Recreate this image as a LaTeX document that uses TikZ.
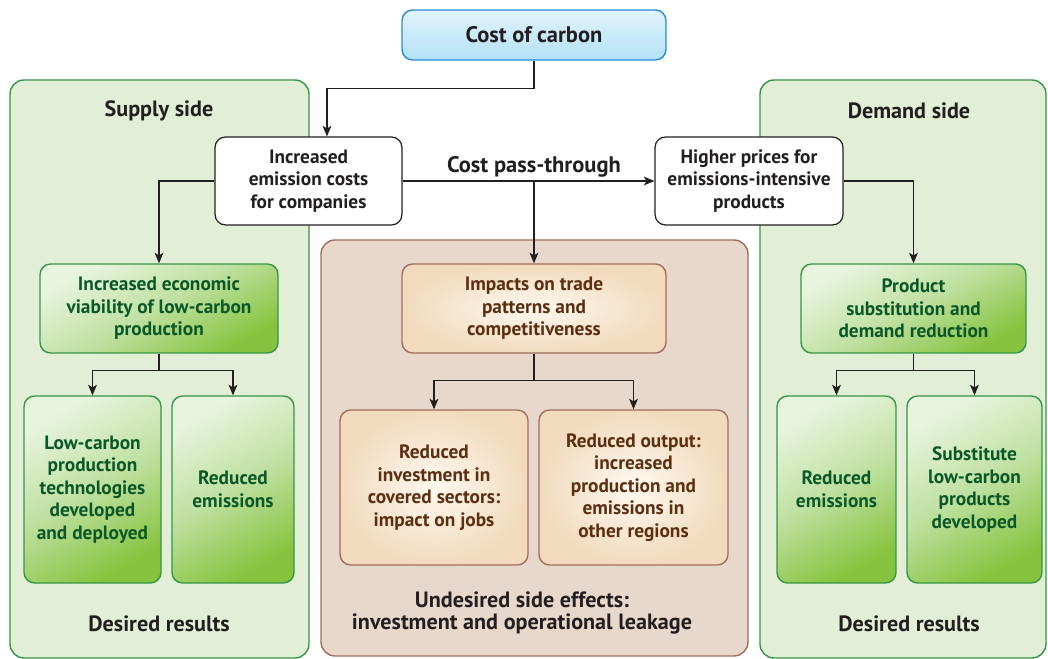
\documentclass[tikz,border=0pt]{standalone}
\usepackage{fontspec}
\setmainfont{PT Sans}
\usepackage{tikz}
\usetikzlibrary{arrows.meta,positioning,calc}

\definecolor{inkdark}{RGB}{35,31,32}
\definecolor{inkgreen}{RGB}{10,88,40}
\definecolor{inkbrown}{RGB}{92,46,18}
\definecolor{panelgreen}{RGB}{226,239,214}
\definecolor{linegreen}{RGB}{52,150,70}
\definecolor{panelbrown}{RGB}{232,215,203}
\definecolor{linebrown}{RGB}{160,112,92}
\definecolor{greenlight}{RGB}{232,244,222}
\definecolor{greenmid}{RGB}{190,224,160}
\definecolor{greendark}{RGB}{135,195,62}
\definecolor{creamlight}{RGB}{254,249,238}
\definecolor{creamdark}{RGB}{242,218,190}
\definecolor{bluelight}{RGB}{225,244,252}
\definecolor{bluedark}{RGB}{178,224,246}
\definecolor{blueline}{RGB}{40,140,210}

\begin{document}
\begin{tikzpicture}[x=0.02cm,y=0.02cm,font=\fontsize{11}{12.8}\selectfont\bfseries,
  sidepanel/.style={draw=linegreen,fill=panelgreen,line width=0.8pt,rounded corners=8pt},
  midpanel/.style={draw=linebrown,fill=panelbrown,line width=0.8pt,rounded corners=8pt},
  heading/.style={text=inkdark,font=\fontsize{12.6}{12.8}\selectfont\bfseries,align=center},
  source/.style={draw=blueline,line width=0.8pt,rounded corners=6pt,top color=bluelight,bottom color=bluedark,text=inkdark,font=\fontsize{12.8}{14}\selectfont\bfseries},
  plain/.style={draw=inkdark,fill=white,line width=0.7pt,rounded corners=6pt,text=inkdark,align=center},
  result/.style={draw=linegreen,line width=0.8pt,rounded corners=6pt,top color=greenlight,bottom color=greendark,middle color=greenmid,shading angle=30,text=inkgreen,align=center},
  effect/.style={draw=linebrown,line width=0.8pt,rounded corners=6pt,inner color=creamlight,outer color=creamdark,text=inkbrown,align=center},
  edge/.style={line width=0.6pt,draw=inkdark,-{Stealth[length=6pt,width=5pt,inset=1.5pt]}}]

\useasboundingbox (0,0) rectangle (1048,659);

% background panels
\draw[sidepanel] (10,1) rectangle (309,579);
\draw[sidepanel] (760,1) rectangle (1046,579);
\draw[midpanel] (321,3) rectangle (748,419);

\node(supply)[heading] at (159,548) {Supply side};
\node(demand)[heading] at (909,548) {Demand side};
\node(desiredL)[heading] at (159,35) {Desired results};
\node(desiredR)[heading] at (909,35) {Desired results};
\node(leakage)[heading] at (522,46) {Undesired side effects:\\investment and operational leakage};

% top row
\node(cost)[source,minimum width=5.28cm,minimum height=1.0cm] at (534,624) {Cost of carbon};
\node(incr)[plain,minimum width=3.74cm,minimum height=1.76cm] at (308.5,478) {Increased\\emission costs\\for companies};
\node(higher)[plain,minimum width=3.76cm,minimum height=1.76cm] at (749,478) {Higher prices for\\emissions-intensive\\products};
\node(pass)[heading,font=\fontsize{12.8}{14}\selectfont\bfseries] at (534,492) {Cost pass-through};

% second row
\node(viab)[result,minimum width=4.76cm,minimum height=1.78cm] at (159,350.5) {Increased economic\\viability of low-carbon\\production};
\node(impacts)[effect,minimum width=5.28cm,minimum height=1.78cm] at (534,350.5) {Impacts on trade\\patterns and\\competitiveness};
\node(prod)[result,minimum width=4.5cm,minimum height=1.78cm] at (913.5,350.5) {Product\\substitution and\\demand reduction};

% bottom row
\node(lowc)[result,minimum width=2.74cm,minimum height=3.74cm] at (92.5,169.5) {Low-carbon\\production\\technologies\\developed\\and deployed};
\node(redL)[result,minimum width=2.44cm,minimum height=3.74cm] at (233,169.5) {Reduced\\emissions};
\node(redInv)[effect,minimum width=3.76cm,minimum height=3.1cm] at (434,171.5) {Reduced\\investment in\\covered sectors:\\impact on jobs};
\node(redOut)[effect,minimum width=3.78cm,minimum height=3.1cm] at (633.5,171.5) {Reduced output:\\increased\\production and\\emissions in\\other regions};
\node(redR)[result,minimum width=2.38cm,minimum height=3.74cm] at (836.5,169.5) {Reduced\\emissions};
\node(subst)[result,minimum width=2.7cm,minimum height=3.74cm] at (974.5,169.5) {Substitute\\low-carbon\\products\\developed};

\draw [edge] (cost.south) -- ++(0,-28) -| ([xshift=0.37cm]incr.north);
\draw [edge] (incr.east) to (higher.west);
\draw [edge] (impacts.north |- incr.east) to (impacts.north);
\draw [edge] (incr.west) -| (viab.north);
\draw [edge] (higher.east) -| (prod.north);
\draw [edge] (viab.south) -- ++(0,-17) -| (lowc.north);
\draw [edge] (viab.south) -- ++(0,-17) -| (redL.north);
\draw [edge] (impacts.south) -- ++(0,-27) -| (redInv.north);
\draw [edge] (impacts.south) -- ++(0,-27) -| (redOut.north);
\draw [edge] (prod.south) -- ++(0,-17) -| (redR.north);
\draw [edge] (prod.south) -- ++(0,-17) -| (subst.north);
\end{tikzpicture}
\end{document}
